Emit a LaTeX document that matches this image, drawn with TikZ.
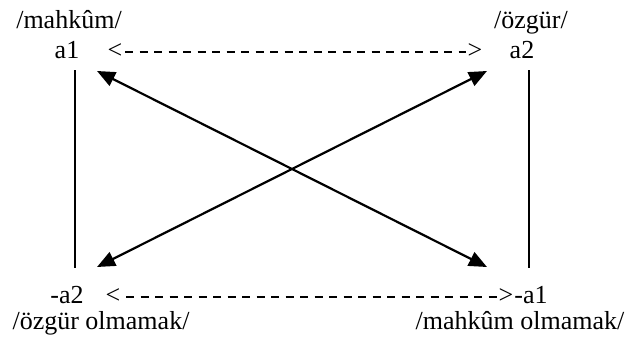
\documentclass[tikz,border=0pt]{standalone}
\usepackage{fontspec}
\setmainfont{Liberation Serif}
\usetikzlibrary{arrows.meta}
\begin{document}
\begin{tikzpicture}[x=1pt,y=-1pt,
  lbl/.style={inner sep=0pt,anchor=base,font=\fontsize{26}{30}\selectfont},
  dashline/.style={line width=1.6pt,dash pattern=on 8pt off 6.5pt},
  vline/.style={line width=2pt},
  dbl/.style={line width=2.2pt,{Triangle[length=18pt,width=15pt]}-{Triangle[length=18pt,width=15pt]}}]
\useasboundingbox (0,0) rectangle (627,343);
% top row
\node[lbl] (m1) at (69,28) {/mahkûm/};
\node[lbl] (a1) at (67,58) {a1};
\node[lbl] (lt1) at (115,58) {<};
\node[lbl] (gt1) at (475,58) {>};
\node[lbl] (a2) at (522,58) {a2};
\node[lbl] (o1) at (531,28) {/özgür/};
% bottom row
\node[lbl] (na2) at (67,303) {-a2};
\node[lbl] (lt2) at (113,303) {<};
\node[lbl] (gt2) at (506,303) {>};
\node[lbl] (na1) at (531,303) {-a1};
\node[lbl] (o2) at (101,329) {/özgür olmamak/};
\node[lbl] (m2) at (520,329) {/mahkûm olmamak/};
% dashed connectors
\coordinate (d1s) at (125,52);
\coordinate (d1e) at (466,52);
\coordinate (d2s) at (126,297);
\coordinate (d2e) at (497,297);
\draw[dashline] (d1s) -- (d1e);
\draw[dashline] (d2s) -- (d2e);
% vertical lines
\coordinate (vl1) at (75,70);
\coordinate (vl2) at (75,268);
\coordinate (vr1) at (529,70);
\coordinate (vr2) at (529,268);
\draw[vline] (vl1) -- (vl2);
\draw[vline] (vr1) -- (vr2);
% diagonal arrows
\coordinate (tl) at (97,71);
\coordinate (br) at (487,267);
\coordinate (tr) at (487,71);
\coordinate (bl) at (97,267);
\draw[dbl] (tl) -- (br);
\draw[dbl] (tr) -- (bl);
\end{tikzpicture}
\end{document}
